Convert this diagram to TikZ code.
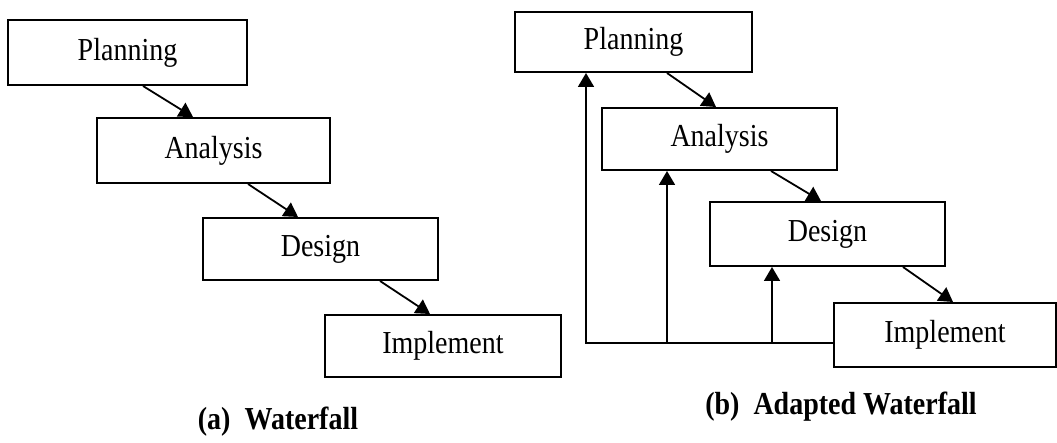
\documentclass[tikz,border=0pt]{standalone}
\usepackage{fontspec}
\setmainfont[FakeStretch=0.875]{Liberation Serif}
\usetikzlibrary{arrows.meta,calc}
\begin{document}
\begin{tikzpicture}[x=1pt,y=-1pt,
  stage/.style={draw,line width=2pt,rectangle,inner sep=0pt,
    font=\fontsize{32}{38}\selectfont},
  flow/.style={line width=1.8pt,-{Triangle[width=16pt,length=14pt]}},
  caption/.style={font=\fontsize{32}{38}\selectfont\bfseries}]
\path[use as bounding box] (0,0) rectangle (1057,443);

% (a) plain waterfall
\node[stage,minimum width=239pt,minimum height=65pt] (P1) at (127.5,52.5) {Planning};
\node[stage,minimum width=233pt,minimum height=65pt] (A1) at (213.5,150.5) {Analysis};
\node[stage,minimum width=235pt,minimum height=62pt] (D1) at (320.5,249) {Design};
\node[stage,minimum width=236pt,minimum height=62pt] (I1) at (443,346) {Implement};

\draw[flow] ($(P1.south)+(15.5,0)$) -- ($(A1.north)+(-20.5,0)$);
\draw[flow] ($(A1.south)+(34.5,0)$) -- ($(D1.north)+(-22.5,0)$);
\draw[flow] ($(D1.south)+(59.5,0)$) -- ($(I1.north)+(-13,0)$);

\node[caption] (capA) at (278,422) {(a)\ \ Waterfall};

% (b) waterfall with feedback paths
\node[stage,minimum width=237pt,minimum height=60pt] (P2) at (633.5,42) {Planning};
\node[stage,minimum width=235pt,minimum height=62pt] (A2) at (719.5,139) {Analysis};
\node[stage,minimum width=235pt,minimum height=64pt] (D2) at (827.5,234) {Design};
\node[stage,minimum width=222pt,minimum height=64pt] (I2) at (945,335) {Implement};

\draw[flow] ($(P2.south)+(33.5,0)$) -- ($(A2.north)+(-3.5,0)$);
\draw[flow] ($(A2.south)+(51.5,0)$) -- ($(D2.north)+(-6.5,0)$);
\draw[flow] ($(D2.south)+(75.5,0)$) -- ($(I2.north)+(8,0)$);

\coordinate (fb) at ($(I2.west)+(0,8)$);
\coordinate (toP) at ($(P2.south west)+(72,0)$);
\coordinate (toA) at ($(A2.south west)+(66,0)$);
\coordinate (toD) at ($(D2.south west)+(63,0)$);
\draw[flow] (fb) -| (toP);
\draw[flow] (fb -| toA) -- (toA);
\draw[flow] (fb -| toD) -- (toD);

\node[caption] (capB) at (841,407) {(b)\ \ Adapted Waterfall};
\end{tikzpicture}
\end{document}
